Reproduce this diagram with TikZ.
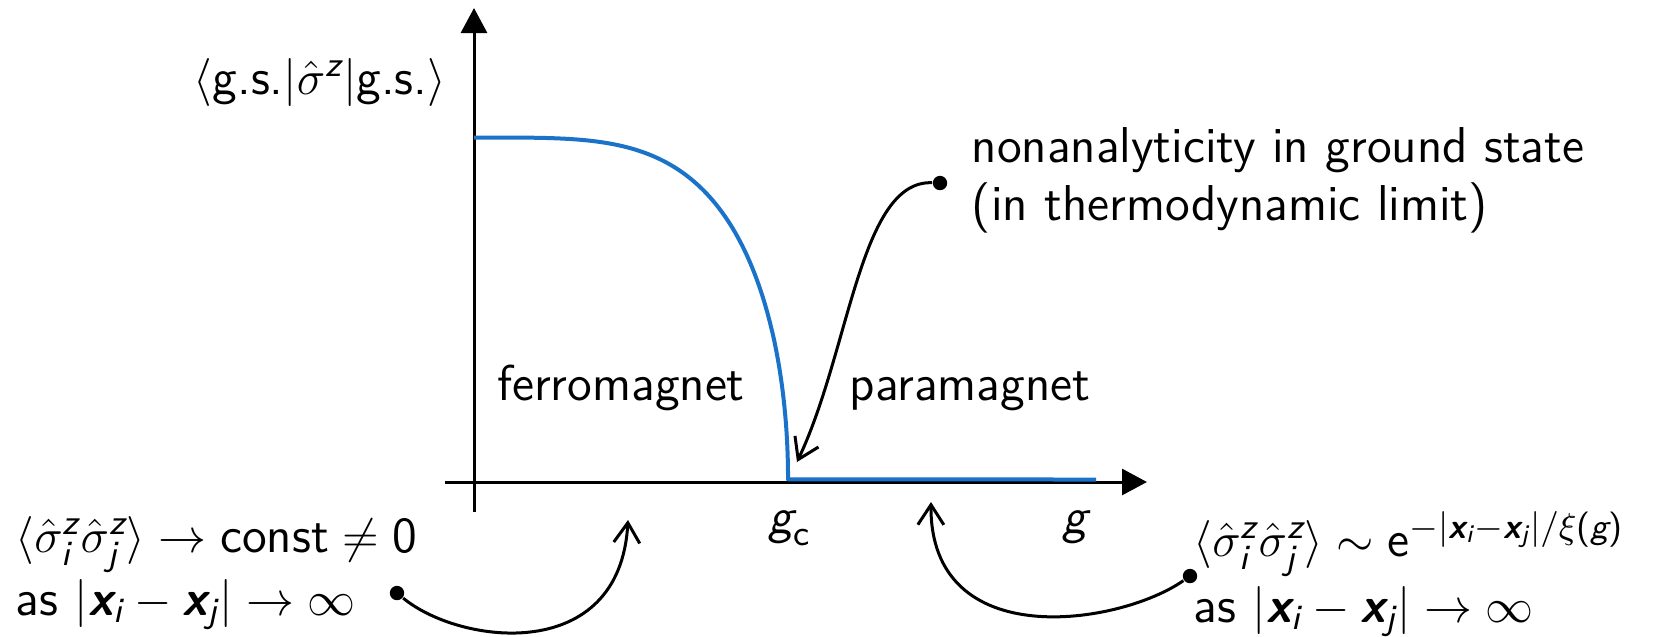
\documentclass[tikz,border=0pt]{standalone}
\usepackage{amsmath}
\usetikzlibrary{arrows.meta}
\definecolor{curveblue}{RGB}{26,115,200}
\newcommand{\bxv}{\text{\bfseries\slshape x}}
\newcommand{\mv}[1]{\text{\itshape #1}}
\newcommand{\ut}[1]{\text{\upshape #1}}
\begin{document}
\begin{tikzpicture}[x=0.25pt,y=-0.25pt,
  font=\fontsize{12.6}{15}\selectfont\sffamily,
  lbl/.style={inner sep=0pt,anchor=base west},
  dotnode/.style={circle,fill=black,inner sep=0pt,minimum size=3.6pt},
  conn/.style={line width=0.75pt,-{Straight Barb[length=5pt,width=6.5pt]}},
  axisline/.style={line width=0.75pt,-{Triangle[length=6.25pt,width=6.5pt]}},
  curveline/.style={curveblue,line width=1pt,line join=round}]
\useasboundingbox (0,0) rectangle (1664,636);
% axes
\coordinate (ybot) at (474,512);
\coordinate (ytop) at (474,8);
\coordinate (xleft) at (445,482);
\coordinate (xright) at (1147,482);
\draw[axisline] (ybot) -- (ytop);
\draw[axisline] (xleft) -- (xright);
% order parameter curve
\coordinate (cend) at (1096,479.5);
\draw[curveline] plot[domain=0:0.95,samples=120,variable=\t]
   ({474+314*\t},{479.5-342*sqrt(1-\t^4)})
   -- plot[domain=0.4307:0,samples=60,variable=\h]
   ({474+314*(1-\h*\h)^0.25},{479.5-342*\h}) -- (cend);
% labels
\node[inner sep=0pt,anchor=base east] (ylab) at (447,94)
  {$\langle\text{g.s.}|\hat{\sigma}^{\mv{z}}|\text{g.s.}\rangle$};
\node[inner sep=0pt,anchor=base] (ferro) at (621,400) {ferromagnet};
\node[inner sep=0pt,anchor=base] (para) at (970,400) {paramagnet};
\node[lbl] (gc) at (768,533) {$\mv{g}_{\ut{c}}$};
\node[lbl] (g) at (1062,533) {$\mv{g}$};
\node[lbl] (nonA) at (971,162) {nonanalyticity in ground state};
\node[lbl] (nonB) at (971,220) {(in thermodynamic limit)};
\node[lbl] (leftA) at (15,552)
  {$\langle\hat{\sigma}^{\mv{z}}_{\mv{i}}\hat{\sigma}^{\mv{z}}_{\mv{j}}\rangle\to\text{const}\neq \ut{0}$};
\node[lbl] (leftB) at (15,615) {as $|\bxv_{\mv{i}}-\bxv_{\mv{j}}|\to\infty$};
\node[lbl] (rightA) at (1193,556)
  {$\langle\hat{\sigma}^{\mv{z}}_{\mv{i}}\hat{\sigma}^{\mv{z}}_{\mv{j}}\rangle\sim\ut{e}^{-|\bxv_{\mv{i}}-\bxv_{\mv{j}}|/\xi\ut{(\itshape g\upshape)}}$};
\node[lbl] (rightB) at (1193,622) {as $|\bxv_{\mv{i}}-\bxv_{\mv{j}}|\to\infty$};
% dots and connectors
\node[dotnode] (dT) at (940,183) {};
\node[dotnode] (dL) at (397,593) {};
\node[dotnode] (dR) at (1190,576) {};
\coordinate (tipT) at (797,462);
\coordinate (tipL) at (628,520);
\coordinate (tipR) at (931,502);
\draw[conn] (dT) .. controls (860,180) and (850,350) .. (tipT);
\draw[conn] (dL) .. controls (460,645) and (620,665) .. (tipL);
\draw[conn] (dR) .. controls (1120,625) and (930,655) .. (tipR);
\end{tikzpicture}
\end{document}
